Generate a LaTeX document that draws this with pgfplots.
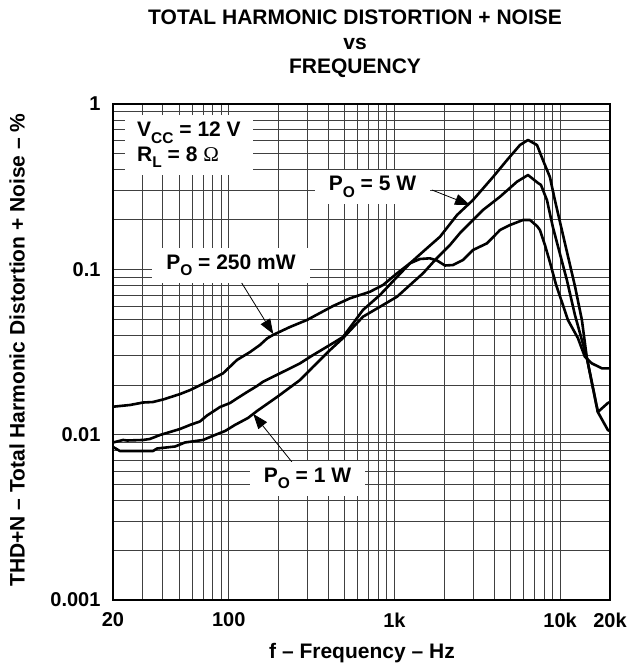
\documentclass[border=0pt]{standalone}
\usepackage{fontspec}
\setmainfont{Liberation Sans}
\newfontfamily\omegafont{Liberation Serif}
\usepackage{pgfplots}
\pgfplotsset{compat=1.18}
\usetikzlibrary{arrows.meta}

\newcommand\lbl{\fontsize{21bp}{24.5bp}\selectfont\bfseries}
\newcommand\tck{\fontsize{20bp}{24bp}\selectfont\bfseries}
\newcommand\sub[1]{\raisebox{-0.3em}{\fontsize{15.5bp}{15.5bp}\selectfont\bfseries #1}}

\begin{document}
\begin{tikzpicture}
\path[use as bounding box] (0,0) rectangle (644bp,665bp);
\begin{axis}[
    at={(113bp,65bp)}, anchor=south west,
    scale only axis, width=497bp, height=496bp,
    xmode=log, ymode=log,
    xmin=20, xmax=20000, ymin=0.001, ymax=1,
    xtick={20,100,1000,10000,20000},
    xticklabels={20,100,1k,10k,20k},
    ytick={0.001,0.01,0.1,1},
    yticklabels={0.001,0.01,0.1,1},
    minor xtick={30,40,50,60,70,80,90,200,300,400,500,600,700,800,900,
                 2000,3000,4000,5000,6000,7000,8000,9000},
    minor ytick={0.002,0.003,0.004,0.005,0.006,0.007,0.008,0.009,
                 0.02,0.03,0.04,0.05,0.06,0.07,0.08,0.09,
                 0.2,0.3,0.4,0.5,0.6,0.7,0.8,0.9},
    grid=both,
    major grid style={black!75, line width=0.8bp},
    minor grid style={black!75, line width=0.8bp},
    major tick length=0pt, minor tick length=0pt,
    axis line style={line width=2bp},
    ticklabel style={font=\tck},
    xticklabel style={yshift=-9bp},
    yticklabel style={xshift=-9bp},
    title={TOTAL HARMONIC DISTORTION + NOISE\\vs\\FREQUENCY},
    title style={align=center, font=\lbl, at={(axis description cs:0.487,1.109)}, anchor=center},
    xlabel={f – Frequency – Hz},
    xlabel style={font=\lbl, at={(axis description cs:0.501,-0.106)}, anchor=center},
    ylabel={THD+N – Total Harmonic Distortion + Noise – \%},
    ylabel style={font=\lbl, at={(axis description cs:-0.193,0.504)}, anchor=center, rotate=0},
]
% P_O = 250 mW
\addplot[black, line width=2.6bp, line join=round] coordinates {
 (20,0.01476) (25.3,0.01512) (30.4,0.01565) (34.9,0.01576) (40.1,0.01632)
 (50.7,0.0176) (58.3,0.0186) (64.3,0.0195) (73.9,0.0209) (92.3,0.0235)
 (112,0.0283) (134.3,0.0316) (154.3,0.0349) (170.2,0.0382) (184.9,0.0401)
 (233.9,0.0448) (296.5,0.0494) (425.6,0.0600) (539,0.0668) (711.5,0.0732)
 (853,0.0804) (1036,0.0946) (1241,0.1088) (1426,0.1155) (1638,0.1166)
 (1805,0.1131) (2018,0.1055) (2256,0.1062) (2594,0.1139) (2979,0.1309)
 (3620,0.1437) (4337,0.1729) (4981,0.1854) (5968,0.1988) (6577,0.1988)
 (7247,0.1828) (7553,0.1729) (8095,0.1403) (8670,0.1108) (9422,0.0815)
 (11140,0.0494) (12800,0.0384) (14100,0.0296) (15530,0.0270) (17860,0.0252)
 (20000,0.0252)
};
% P_O = 5 W
\addplot[black, line width=2.6bp, line join=round] coordinates {
 (20,0.00897) (23,0.00929) (24.3,0.00922) (30.4,0.00929) (33.4,0.00942)
 (38.5,0.00996) (50.7,0.01082) (58.3,0.01145) (67,0.01202) (73.9,0.01306)
 (88.5,0.0147) (101.7,0.01554) (112,0.01656) (128.8,0.0181) (148,0.0197)
 (160.8,0.0209) (203.7,0.0235) (269,0.0270) (322.3,0.0303) (425.6,0.0358)
 (489,0.0390) (645.7,0.0568) (818,0.0700) (1036,0.0899) (1241,0.1088)
 (1487,0.1279) (1883,0.1575) (2387,0.2132) (2979,0.2627) (3936,0.362)
 (4779,0.458) (5723,0.565) (6397,0.606) (7247,0.565) (7874,0.458)
 (8670,0.362) (9292,0.2627) (10680,0.1443) (12280,0.0793) (13530,0.0494)
 (14500,0.0291) (16890,0.01371) (19410,0.01067) (20000,0.01052)
};
% P_O = 1 W
\addplot[black, line width=2.6bp, line join=round] coordinates {
 (20,0.00843) (22,0.00797) (34.9,0.00797) (36.9,0.00825) (47.4,0.00848)
 (54.4,0.00897) (69.9,0.00929) (82.6,0.00996) (94.9,0.01052) (108.9,0.01145)
 (130.6,0.01262) (148,0.0139) (195.5,0.0169) (269,0.0214) (322.3,0.0257)
 (408.3,0.0325) (489,0.0384) (645.7,0.0517) (818,0.0594) (1036,0.0683)
 (1241,0.0804) (1487,0.0946) (1805,0.1171) (2163,0.1403) (2489,0.166)
 (3422,0.2285) (4337,0.275) (5492,0.339) (6397,0.372) (7348,0.333)
 (7659,0.324) (8322,0.2627) (9038,0.1803) (10980,0.0862) (12280,0.0530)
 (14500,0.0291) (16890,0.01371) (19410,0.01554) (20000,0.01576)
};
% annotations
\node[anchor=north west, fill=white, inner xsep=12bp, inner ysep=7bp, align=left, font=\lbl]
  at (axis cs:23.63,0.858) {V\sub{CC} = 12 V\\R\sub{L} = 8 {\omegafont\mdseries Ω}};
\node[fill=white, inner xsep=14bp, inner ysep=7bp, font=\lbl] at (axis cs:737,0.3148) {P\sub{O} = 5 W};
\node[fill=white, inner xsep=14bp, inner ysep=7bp, font=\lbl] at (axis cs:103.1,0.1055) {P\sub{O} = 250 mW};
\node[fill=white, inner xsep=14bp, inner ysep=7bp, font=\lbl] at (axis cs:298.5,0.00543) {P\sub{O} = 1 W};
\draw[-{Triangle[length=15bp,width=11bp]}, line width=0.8bp] (axis cs:1684,0.302) -- (axis cs:2858,0.245);
\draw[-{Triangle[length=15bp,width=11bp]}, line width=0.8bp] (axis cs:119.7,0.0827) -- (axis cs:185.6,0.0406);
\draw[-{Triangle[length=15bp,width=11bp]}, line width=0.8bp] (axis cs:239.8,0.00686) -- (axis cs:140.6,0.01334);
\end{axis}
\end{tikzpicture}
\end{document}
